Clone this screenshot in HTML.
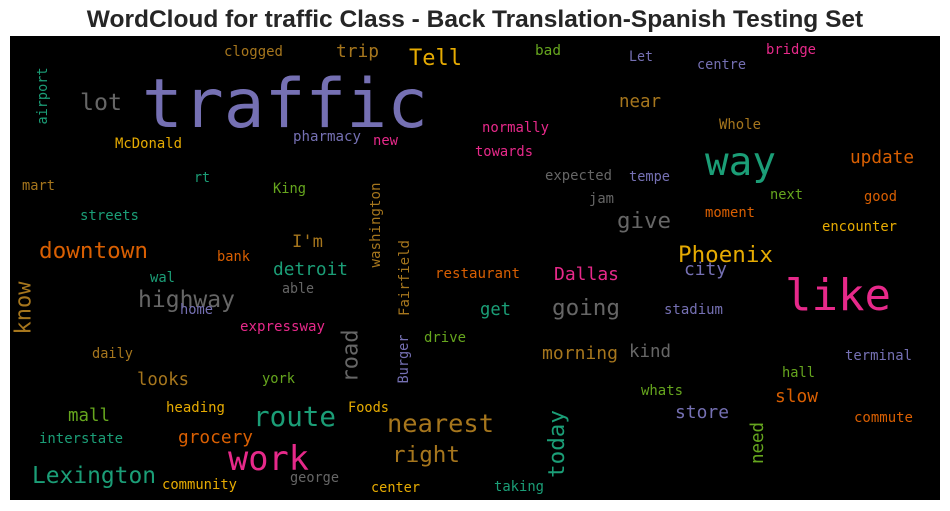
<!DOCTYPE html>
<html><head><meta charset="utf-8"><style>
html,body{margin:0;padding:0;background:#fff;}
svg{display:block;}
</style></head><body>
<svg width="950" height="511" viewBox="0 0 950 511" xmlns="http://www.w3.org/2000/svg">
<text x="475" y="27" text-anchor="middle" font-family="Liberation Sans, Arial, sans-serif" font-weight="bold" font-size="24.5" fill="#262626">WordCloud for traffic Class - Back Translation-Spanish Testing Set</text>
<rect x="10" y="36" width="930" height="464" fill="#000"/>
<g id="cloud" font-family="DejaVu Sans Mono, Liberation Mono, monospace"></g>
</svg>
<script>
const words=["traffic","lot","Tell","trip","clogged","McDonald","pharmacy","new","mart","rt","King","streets","downtown","bank","I'm","bad","Let","centre","bridge","near","Whole","normally","towards","way","update","expected","tempe","jam","next","good","moment","give","encounter","Phoenix","highway","wal","detroit","able","home","expressway","drive","daily","looks","york","heading","Foods","mall","route","nearest","grocery","interstate","right","work","Lexington","community","george","center","restaurant","Dallas","city","like","get","going","stadium","morning","kind","terminal","hall","whats","slow","store","commute","taking","airport","washington","Fairfield","know","road","Burger","today","need"];
const sizes=[67.6,23,22,18,14,14,14,14,14,14,14,14,22.6,14,17,14,14,14,14,17.5,14,14,14,39,17.7,14,14,14,14,14,14,22,14,22.5,23,14,17.8,14,14,14,14,14,17.5,14,14,14,17.5,27.5,25,17.8,14,22.6,33.6,23,14,14,14,14,18,18,44,17.5,22.6,14,18,17.5,14,14,14,17.5,18,14,14,14,14,14,22,22,14,22.6,17.5];
const colorKeys=["P","G","Y","B","B","Y","P","K","B","T","N","T","O","O","B","N","P","P","K","B","B","K","K","T","O","G","P","G","N","O","O","G","Y","Y","G","T","T","G","P","K","N","B","B","N","Y","Y","N","T","B","O","T","B","K","T","Y","G","Y","O","K","P","K","T","G","P","B","G","P","N","N","O","P","O","T","T","B","B","B","G","P","T","N"];
const palette={T:"#1b9e77",O:"#d95f02",P:"#7570b3",K:"#e7298a",N:"#66a61e",Y:"#e6ab02",B:"#a6761d",G:"#666666"};
/* layout: horizontal = [left, baseline, width]; rotated = [cx, cy, length, 'r'] */
const layout=[[142,127,286],[80,110,42],[409,65,53],[336,57,43],[224,56,59],[115,148,67],[293,141,68],[373,145,25],[22,190,33],[194,182,16],[273,193,33],[80,220,59],[39,258,109],[217,261,33],[292,247,31],[535,55,26],[629,61,24],[697,69,49],[766,54,50],[619,107,42],[719,129,42],[482,132,67],[475,156,58],[705,175,71],[850,163,64],[545,180,67],[629,181,41],[589,203,25],[770,199,33],[864,201,33],[705,217,50],[617,228,54],[822,231,75],[678,262,95],[138,307,97],[150,282,25],[273,275,75],[282,293,32],[180,314,33],[240,331,85],[424,342,42],[92,358,41],[137,385,52],[262,383,33],[166,412,59],[348,412,41],[68,421,42],[253,426,83],[387,432,107],[178,443,75],[39,443,84],[392,462,68],[228,470,81],[32,483,124],[162,489,75],[290,482,49],[371,492,49],[435,278,85],[554,280,65],[684,275,43],[785,310,106],[480,315,31],[552,315,68],[664,314,59],[542,359,76],[629,357,42],[845,360,67],[782,377,33],[641,395,42],[775,402,43],[675,418,54],[854,422,59],[494,491,50],[43,96,57,'r'],[376,225,85,'r'],[405,278,76,'r'],[24,308,53,'r'],[351,356,53,'r'],[404,359,49,'r'],[557,444,68,'r'],[758,443,42,'r']];
const g=document.getElementById('cloud');
const NS="http://www.w3.org/2000/svg";
words.forEach((w,i)=>{
  const t=document.createElementNS(NS,'text');
  const L=layout[i];
  t.setAttribute('font-size',sizes[i]);
  t.setAttribute('fill',palette[colorKeys[i]]);
  t.setAttribute('textLength',L[2]);
  t.setAttribute('lengthAdjust','spacingAndGlyphs');
  if(L[3]==='r'){
    t.setAttribute('x',L[0]);t.setAttribute('y',L[1]);
    t.setAttribute('text-anchor','middle');
    t.setAttribute('dominant-baseline','central');
    t.setAttribute('transform','rotate(-90 '+L[0]+' '+L[1]+')');
  }else{
    t.setAttribute('x',L[0]);t.setAttribute('y',L[1]);
  }
  t.textContent=w;
  
  
  g.appendChild(t);
});
</script>
</body></html>
